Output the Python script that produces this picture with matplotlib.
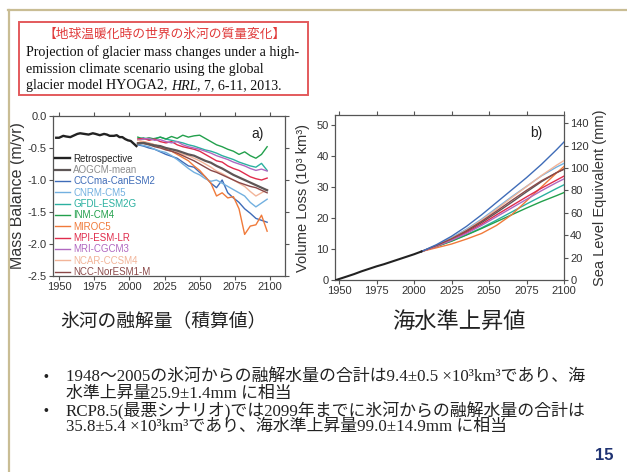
import matplotlib
matplotlib.use('Agg')
from matplotlib import pyplot as plt
from matplotlib.patches import Rectangle
from matplotlib.lines import Line2D

plt.rcParams['font.family'] = ['Liberation Sans', 'Noto Sans CJK JP']
plt.rcParams['axes.unicode_minus'] = False

W, H = 627, 472

# ---- data: panel a (mass balance, m/yr) ----
ret_years = [1948, 1950, 1953, 1955, 1958, 1961, 1963, 1965, 1968, 1971, 1974, 1976, 1979,
             1982, 1984, 1986, 1989, 1991, 1993, 1995, 1997, 1999, 2001, 2003, 2005]
ret_mb = [-0.34, -0.34, -0.31, -0.32, -0.33, -0.30, -0.28, -0.27, -0.28, -0.29, -0.27, -0.28, -0.30,
          -0.28, -0.29, -0.31, -0.31, -0.30, -0.33, -0.33, -0.36, -0.38, -0.39, -0.43, -0.47]

proj_years = [2006, 2010, 2014, 2018, 2022, 2026, 2030, 2034, 2038, 2042, 2046, 2050,
              2054, 2058, 2062, 2066, 2070, 2074, 2078, 2082, 2086, 2090, 2094, 2098]

model_names = ['AOGCM-mean', 'CCCma-CanESM2', 'CNRM-CM5', 'GFDL-ESM2G', 'INM-CM4', 'MIROC5',
               'MPI-ESM-LR', 'MRI-CGCM3', 'NCAR-CCSM4', 'NCC-NorESM1-M']
line_colours = ['#5e5656', '#3f6cb8', '#72b0e0', '#2bb0a0', '#22a04c', '#f07a3a',
                '#e02c4c', '#b068c0', '#f2b498', '#8a4848']
text_colours = ['#8c8c8c', '#3f6cb8', '#72b0e0', '#2bb0a0', '#22a04c', '#f07a3a',
                '#e02c4c', '#b068c0', '#f2b498', '#8a4848']

mb_aogcm = [-0.43, -0.42, -0.44, -0.46, -0.47, -0.50, -0.52, -0.54, -0.57, -0.60, -0.62, -0.66,
            -0.70, -0.73, -0.78, -0.82, -0.87, -0.92, -0.96, -1.00, -1.04, -1.08, -1.12, -1.16]
mb_cccma = [-0.45, -0.47, -0.50, -0.52, -0.56, -0.60, -0.63, -0.66, -0.72, -0.78, -0.80, -0.88,
            -0.95, -1.05, -1.12, -1.00, -1.20, -1.28, -1.35, -1.45, -1.52, -1.60, -1.63, -1.66]
mb_cnrm = [-0.44, -0.46, -0.48, -0.52, -0.55, -0.57, -0.62, -0.68, -0.75, -0.82, -0.88, -0.92,
           -0.98, -1.02, -1.00, -1.05, -1.10, -1.15, -1.20, -1.25, -1.35, -1.42, -1.36, -1.30]
mb_gfdl = [-0.36, -0.34, -0.37, -0.35, -0.33, -0.36, -0.38, -0.40, -0.42, -0.45, -0.47, -0.50,
           -0.53, -0.55, -0.58, -0.62, -0.65, -0.68, -0.72, -0.75, -0.78, -0.80, -0.74, -0.85]
mb_inm = [-0.33, -0.36, -0.34, -0.36, -0.33, -0.36, -0.32, -0.35, -0.30, -0.33, -0.31, -0.30,
          -0.35, -0.40, -0.45, -0.48, -0.52, -0.55, -0.60, -0.56, -0.62, -0.66, -0.60, -0.48]
mb_miroc = [-0.42, -0.40, -0.43, -0.45, -0.48, -0.52, -0.55, -0.60, -0.65, -0.70, -0.78, -0.85,
            -0.95, -1.05, -1.25, -1.20, -1.28, -1.26, -1.45, -1.85, -1.72, -1.70, -1.55, -1.80]
mb_mpi = [-0.36, -0.35, -0.38, -0.36, -0.40, -0.42, -0.40, -0.45, -0.48, -0.50, -0.52, -0.55,
          -0.60, -0.65, -0.70, -0.72, -0.78, -0.82, -0.85, -0.90, -0.95, -0.98, -1.00, -0.97]
mb_mri = [-0.38, -0.36, -0.35, -0.38, -0.37, -0.40, -0.42, -0.40, -0.45, -0.48, -0.50, -0.52,
          -0.55, -0.58, -0.62, -0.65, -0.68, -0.72, -0.75, -0.78, -0.82, -0.85, -0.83, -0.86]
mb_ncar = [-0.38, -0.40, -0.42, -0.45, -0.48, -0.50, -0.52, -0.56, -0.60, -0.62, -0.66, -0.70,
           -0.75, -0.80, -0.86, -0.90, -0.95, -1.00, -1.05, -1.10, -1.18, -1.25, -1.20, -1.15]
mb_ncc = [-0.42, -0.43, -0.45, -0.48, -0.50, -0.53, -0.55, -0.58, -0.62, -0.66, -0.70, -0.75,
          -0.80, -0.85, -0.88, -0.92, -0.96, -1.00, -1.04, -1.07, -1.10, -1.12, -1.16, -1.20]
mb_models = [mb_aogcm, mb_cccma, mb_cnrm, mb_gfdl, mb_inm, mb_miroc, mb_mpi, mb_mri, mb_ncar, mb_ncc]

# ---- data: panel b (cumulative volume loss, 10^3 km^3) ----
ret_years_b = [1948, 1955, 1960, 1965, 1970, 1975, 1980, 1985, 1990, 1995, 2000, 2005]
ret_vol = [0.0, 1.1, 1.9, 2.8, 3.6, 4.4, 5.1, 5.9, 6.7, 7.5, 8.3, 9.2]

vol_years = [2005, 2015, 2025, 2035, 2045, 2055, 2065, 2075, 2085, 2095, 2100]
vol_aogcm = [9.2, 11.0, 13.1, 15.6, 18.5, 21.7, 25.0, 28.4, 31.7, 34.6, 35.8]
vol_cccma = [9.2, 11.4, 14.1, 17.3, 21.0, 25.0, 29.0, 33.0, 37.3, 42.0, 44.5]
vol_cnrm = [9.2, 11.2, 13.6, 16.4, 19.6, 23.2, 26.8, 30.2, 33.6, 36.4, 37.6]
vol_gfdl = [9.2, 10.8, 12.6, 14.6, 16.8, 19.3, 21.9, 24.5, 27.0, 29.5, 30.7]
vol_inm = [9.2, 10.8, 12.5, 14.5, 16.6, 18.8, 21.0, 23.2, 25.3, 27.2, 28.2]
vol_miroc = [9.2, 10.4, 11.6, 13.2, 15.0, 17.6, 21.0, 25.5, 30.0, 34.5, 36.6]
vol_mpi = [9.2, 10.9, 12.9, 15.3, 18.0, 21.0, 23.9, 26.8, 29.6, 32.2, 33.5]
vol_mri = [9.2, 10.9, 12.8, 15.0, 17.6, 20.4, 23.2, 26.0, 28.8, 31.4, 32.6]
vol_ncar = [9.2, 11.1, 13.4, 16.1, 19.3, 22.8, 26.5, 30.1, 33.7, 37.0, 38.5]
vol_ncc = [9.2, 11.1, 13.3, 15.9, 18.9, 22.2, 25.6, 28.9, 32.0, 34.6, 35.7]
vol_models = [vol_aogcm, vol_cccma, vol_cnrm, vol_gfdl, vol_inm, vol_miroc, vol_mpi, vol_mri, vol_ncar, vol_ncc]

MM_PER_1000KM3 = 2.77

year_ticks = [1950, 1975, 2000, 2025, 2050, 2075, 2100]


def px(x, y):
    """pixel position (from top-left) -> figure fraction"""
    return x / W, 1 - y / H


def style_axes(ax):
    for s in ax.spines.values():
        s.set_color('#555555')
        s.set_linewidth(0.9)
    ax.tick_params(direction='out', length=3, width=0.8, color='#555555',
                   labelsize=8, labelcolor='#333333', pad=1.5,
                   top=True, right=True, labeltop=False, labelright=False)


fig = plt.figure(figsize=(W / 100, H / 100), dpi=100)
fig.patch.set_facecolor('white')

# slide frame
fig.add_artist(Line2D([8 / W, 1.0], [1 - 10 / H, 1 - 10 / H], transform=fig.transFigure,
                      color='#c9bd94', lw=1.6))
fig.add_artist(Line2D([9 / W, 9 / W], [0, 1 - 10 / H], transform=fig.transFigure,
                      color='#c9bd94', lw=1.6))

# citation box
x0, y0 = px(19, 95)
fig.add_artist(Rectangle((x0, y0), 289 / W, 73 / H, transform=fig.transFigure,
                         fill=False, edgecolor='#e35a5c', lw=1.4))
fig.text(*px(165, 34), '【地球温暖化時の世界の氷河の質量変化】', color='#e03a3a',
         fontsize=9.2, ha='center', va='center', family=['Noto Sans CJK JP'])
serif = ['Liberation Serif', 'Noto Sans CJK JP']
box_fs = 10.1
fig.text(*px(26, 52), 'Projection of glacier mass changes under a high-',
         fontsize=box_fs, ha='left', va='center', family=serif, color='#111111')
fig.text(*px(26, 69), 'emission climate scenario using the global',
         fontsize=box_fs, ha='left', va='center', family=serif, color='#111111')
renderer = fig.canvas.get_renderer()
t1 = fig.text(*px(26, 86), 'glacier model HYOGA2, ', fontsize=box_fs, ha='left', va='center',
              family=serif, color='#111111')
bb = t1.get_window_extent(renderer=renderer)
t2 = fig.text(bb.x1 / fig.bbox.width, 1 - 86 / H, 'HRL', fontsize=box_fs, ha='left', va='center',
              family=serif, style='italic', color='#111111')
bb = t2.get_window_extent(renderer=renderer)
fig.text(bb.x1 / fig.bbox.width, 1 - 86 / H, ', 7, 6-11, 2013.', fontsize=box_fs, ha='left',
         va='center', family=serif, color='#111111')

# ---- panel a ----
axa = fig.add_axes([53 / W, 1 - 276 / H, 232 / W, 160 / H])
style_axes(axa)
for name, mb, lc in zip(model_names, mb_models, line_colours):
    lw = 1.6 if name == 'AOGCM-mean' else 1.0
    axa.plot(proj_years, mb, color=lc, lw=lw, label=name,
             zorder=4 if name == 'AOGCM-mean' else 3)
axa.plot(ret_years, ret_mb, color='#222222', lw=1.7, label='Retrospective', zorder=5)
axa.set_xlim(1945.7, 2110.7)
axa.set_ylim(-2.5, 0)
axa.set_xticks(year_ticks)
axa.set_yticks([0, -0.5, -1.0, -1.5, -2.0, -2.5])
axa.set_yticklabels(['0.0', '-0.5', '-1.0', '-1.5', '-2.0', '-2.5'])
axa.set_ylabel('Mass Balance (m/yr)', fontsize=11.5, color='#333333')
axa.yaxis.set_label_coords(-0.12, 0.5)
axa.text(0.88, 0.89, 'a)', transform=axa.transAxes, fontsize=10, color='#222222',
         ha='center', va='center')

handles, labels = axa.get_legend_handles_labels()
order = [len(handles) - 1] + list(range(len(handles) - 1))
leg = axa.legend([handles[i] for i in order], [labels[i] for i in order],
                 loc='upper left', bbox_to_anchor=(0.01, 0.765), frameon=False,
                 fontsize=7, handlelength=1.5, handletextpad=0.35, labelspacing=0.14,
                 borderaxespad=0, borderpad=0)
for txt, c in zip(leg.get_texts(), ['#222222'] + text_colours):
    txt.set_color(c)

# ---- panel b ----
axb = fig.add_axes([335 / W, 1 - 280 / H, 229 / W, 165 / H])
style_axes(axb)
axb.tick_params(right=False)
for name, vol, lc in zip(model_names, vol_models, line_colours):
    axb.plot(vol_years, vol, color=lc, lw=1.0, zorder=4 if name == 'CCCma-CanESM2' else 3)
axb.plot(ret_years_b, ret_vol, color='#222222', lw=1.5, zorder=5)
axb.set_xlim(1947.3, 2100)
axb.set_ylim(0, 53.2)
axb.set_xticks(year_ticks)
axb.set_yticks([0, 10, 20, 30, 40, 50])
axb.set_ylabel('Volume Loss (10³ km³)', fontsize=10.5, color='#333333')
axb.yaxis.set_label_coords(-0.11, 0.5)
axb.text(0.88, 0.89, 'b)', transform=axb.transAxes, fontsize=10, color='#222222',
         ha='center', va='center')

axr = axb.twinx()
axr.set_ylim(0, 53.2 * MM_PER_1000KM3)
axr.set_yticks([0, 20, 40, 60, 80, 100, 120, 140])
for s in axr.spines.values():
    s.set_visible(False)
axr.tick_params(direction='out', length=3, width=0.8, color='#555555',
                labelsize=8, labelcolor='#333333', pad=1.5)
axr.set_ylabel('Sea Level Equivalent (mm)', fontsize=10.5, color='#333333')
axr.yaxis.set_label_coords(1.125, 0.5)

# ---- slide text ----
fig.text(*px(60, 321), '氷河の融解量（積算値）', fontsize=13.5, ha='left', va='center',
         color='#222222', family=['Noto Sans CJK JP'])
fig.text(*px(392, 321), '海水準上昇値', fontsize=16, ha='left', va='center',
         color='#222222', family=['Noto Sans CJK JP'])

bullet_lines = [
    (377, True, '1948～2005の氷河からの融解水量の合計は9.4±0.5 ×10³km³であり、海'),
    (394, False, '水準上昇量25.9±1.4mm に相当'),
    (411, True, 'RCP8.5(最悪シナリオ)では2099年までに氷河からの融解水量の合計は'),
    (427, False, '35.8±5.4 ×10³km³であり、海水準上昇量99.0±14.9mm に相当'),
]
for ypx, has_bullet, line in bullet_lines:
    if has_bullet:
        fig.text(*px(46, ypx), '•', fontsize=10, ha='center', va='center', color='#222222')
    fig.text(*px(66, ypx), line, fontsize=12.2, ha='left', va='center',
             color='#222222', family=serif)

fig.text(*px(604, 456), '15', fontsize=12, fontweight='bold', ha='center', va='center',
         color='#1e3272')

plt.savefig('out.png', dpi=100, facecolor='white')
plt.close()
